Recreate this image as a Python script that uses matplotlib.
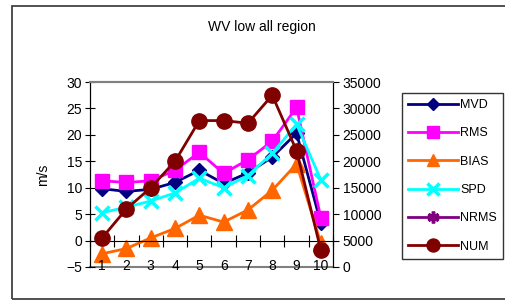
import numpy as np
import matplotlib
matplotlib.use("Agg")
import matplotlib.pyplot as plt
from matplotlib.patches import Rectangle

plt.rcParams['font.family'] = ['Liberation Sans', 'DejaVu Sans']

# data
categories = [1, 2, 3, 4, 5, 6, 7, 8, 9, 10]
mvd = [9.8, 9.3, 9.7, 11.0, 13.3, 10.8, 12.8, 15.8, 20.3, 3.3]
rms = [11.3, 11.0, 11.3, 13.3, 16.7, 12.7, 15.3, 18.8, 25.2, 4.3]
bias = [-2.5, -1.5, 0.5, 2.3, 4.8, 3.5, 5.8, 9.5, 14.5, -0.5]
spd = [5.3, 6.3, 7.5, 9.0, 11.8, 10.0, 12.3, 16.5, 22.0, 11.5]
nrms = [np.nan, np.nan, np.nan, np.nan, np.nan, np.nan, np.nan, np.nan, np.nan, np.nan]
num = [5500, 11000, 15000, 20000, 27700, 27700, 27200, 32500, 22000, 3200]

W, H = 505, 302
fig = plt.figure(figsize=(W / 100, H / 100), dpi=100)

# outer chart border
fig.patches.append(Rectangle((12 / W, 3 / H), 1.0, 293 / H, transform=fig.transFigure,
                             fill=False, edgecolor='#333333', linewidth=1.2))

ax = fig.add_axes([90 / W, 1 - 267 / H, 243 / W, 185 / H])
ax.set_xlim(0.5, 10.5)
ax.set_ylim(-5, 30)

ax.plot(categories, mvd, color='#000080', marker='D', markersize=7, linewidth=2, label='MVD')
ax.plot(categories, rms, color='#FF00FF', marker='s', markersize=10, linewidth=2, label='RMS')
ax.plot(categories, bias, color='#FF6600', marker='^', markersize=11, linewidth=2, label='BIAS')
ax.plot(categories, spd, color='#00FFFF', marker='x', markersize=10, markeredgewidth=2.5,
        linewidth=2, label='SPD')
ax.plot(categories, nrms, color='#800080', marker=(6, 2, 0), markersize=10, markeredgewidth=2.5,
        linewidth=2, label='NRMS')

ax2 = ax.twinx()
ax2.set_ylim(0, 35000)
ax2.plot(categories, num, color='#800000', marker='o', markersize=11, linewidth=2, label='NUM')

# spines: gray top/bottom frame, black value axes, category axis at 0
for a in (ax, ax2):
    a.spines['top'].set_color('#808080')
    a.spines['top'].set_linewidth(1.5)
    a.spines['left'].set_color('black')
    a.spines['right'].set_color('black')
ax.spines['bottom'].set_position(('data', 0))
ax.spines['bottom'].set_color('black')
ax2.spines['bottom'].set_visible(False)
ax.axhline(-5, color='#808080', linewidth=1.5, clip_on=False, zorder=0)

ax.set_xticks(np.arange(0.5, 11, 1))
ax.tick_params(axis='x', direction='inout', length=8, labelbottom=False)
for c in categories:
    ax.text(c, -4.9, str(c), ha='center', va='center', fontsize=10)

ax.set_yticks(np.arange(-5, 31, 5))
ax.tick_params(axis='y', direction='inout', length=7, labelsize=10, pad=2)
ax2.set_yticks(np.arange(0, 35001, 5000))
ax2.tick_params(axis='y', direction='out', length=4, labelsize=10, pad=3)

ax.set_ylabel('m/s', fontsize=10, labelpad=12)
fig.text(262 / W, 1 - 27 / H, 'WV low all region', ha='center', va='center', fontsize=10)

h1, l1 = ax.get_legend_handles_labels()
h2, l2 = ax2.get_legend_handles_labels()
leg = fig.legend(h1 + h2, l1 + l2, loc='upper left', bbox_to_anchor=(402 / W, 1 - 93 / H),
                 fontsize=9, frameon=True, fancybox=False, edgecolor='black',
                 handlelength=4.0, handletextpad=0.15, labelspacing=1.3, borderpad=0.5,
                 borderaxespad=0, markerscale=0.85)
leg.get_frame().set_linewidth(1.0)

fig.savefig('out.png', dpi=100)
